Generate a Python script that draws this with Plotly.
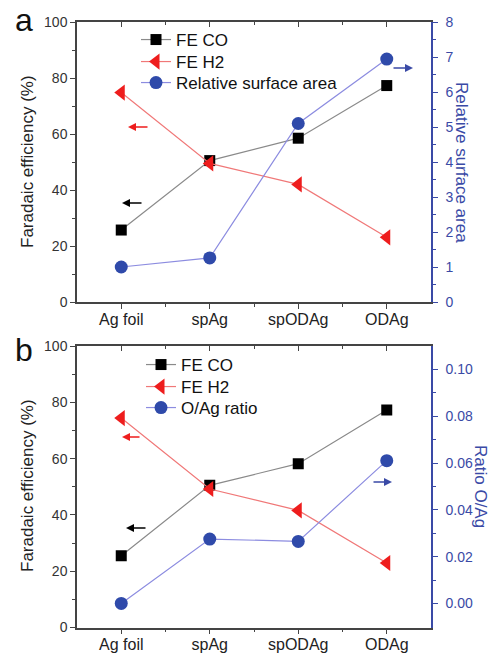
import plotly.graph_objects as go

categories = ["Ag foil", "spAg", "spODAg", "ODAg"]
fe_co_a = [25.7, 50.5, 58.5, 77.3]
fe_h2_a = [74.8, 49.5, 42.0, 23.1]
rel_area = [1.0, 1.26, 5.1, 6.94]
fe_co_b = [25.5, 50.5, 58.2, 77.3]
fe_h2_b = [74.4, 49.2, 41.6, 22.9]
o_ag = [0.0, 0.0275, 0.0265, 0.061]

W, H = 490, 654
FONT = "Arial, Liberation Sans, sans-serif"
BLUE = "#3a4aa6"
DARK = "#333333"

xs = list(range(len(categories)))

def px(x):
    return x / W

def py(y):
    return 1 - y / H

xdom = [px(77), px(431)]
ydom_a = [py(302), py(22)]
ydom_b = [py(627.5), py(346)]

fig = go.Figure()

def add_panel(fe_co, fe_h2, third, third_name, xa, ya, ya2, legs):
    fig.add_trace(go.Scatter(x=xs, y=fe_co, name="FE CO", mode="lines+markers",
                             line=dict(color="#8a8a8a", width=1.2),
                             marker=dict(symbol="square", size=11, color="black"),
                             xaxis=xa, yaxis=ya, legend=legs[0]))
    fig.add_trace(go.Scatter(x=xs, y=fe_h2, name="FE H2", mode="lines+markers",
                             line=dict(color="#f07878", width=1.2),
                             marker=dict(symbol="triangle-left", size=14, color="#ee1d1d"),
                             xaxis=xa, yaxis=ya, legend=legs[1]))
    fig.add_trace(go.Scatter(x=xs, y=third, name=third_name, mode="lines+markers",
                             line=dict(color="#8c8ce0", width=1.2),
                             marker=dict(symbol="circle", size=13, color="#2f4aaa"),
                             xaxis=xa, yaxis=ya2, legend=legs[2]))

add_panel(fe_co_a, fe_h2_a, rel_area, "Relative surface area", "x", "y", "y2",
          ["legend", "legend2", "legend3"])
add_panel(fe_co_b, fe_h2_b, o_ag, "O/Ag ratio", "x2", "y3", "y4",
          ["legend4", "legend5", "legend6"])

tickfont = dict(family=FONT, size=14, color=DARK)
xcommon = dict(range=[-0.5, 3.5], tickmode="array", tickvals=xs, ticktext=categories,
               tickfont=dict(family=FONT, size=16, color="#222"),
               ticks="outside", ticklen=5, tickcolor="#444", showline=True,
               linecolor="#444", linewidth=1.5, showgrid=False, zeroline=False,
               automargin=False, ticklabelstandoff=-3,
               minor=dict(tickmode="array", tickvals=[0.5, 1.5, 2.5], ticks="outside",
                          ticklen=3, tickcolor="#444"),
               domain=xdom)
xtop = dict(range=[-0.5, 3.5], tickmode="array", tickvals=xs, showticklabels=False,
            ticks="inside", ticklen=5, tickcolor="#444", showline=True,
            linecolor="#444", linewidth=1.5, showgrid=False, zeroline=False, side="top",
            automargin=False,
            minor=dict(tickmode="array", tickvals=[0.5, 1.5, 2.5], ticks="inside",
                       ticklen=3, tickcolor="#444"))
yleft = dict(range=[0, 100], dtick=20, tickfont=tickfont, ticks="outside", ticklen=5,
             tickcolor="#444", showline=True, linecolor="#444", linewidth=1.5,
             showgrid=False, zeroline=False, automargin=False,
             minor=dict(dtick=10, ticks="outside", ticklen=3, tickcolor="#444"))
yright_common = dict(tickfont=dict(family=FONT, size=14, color=BLUE), ticks="outside",
                     ticklen=5, tickcolor=BLUE, showline=True, linecolor=BLUE,
                     linewidth=1.5, showgrid=False, zeroline=False, side="right",
                     automargin=False, ticklabelstandoff=5)

legfont = dict(family=FONT, size=17, color="#111")

def leg(x, yc):
    return dict(x=px(x), y=py(yc), xanchor="left", yanchor="middle",
                bgcolor="rgba(0,0,0,0)", font=legfont, tracegroupgap=0, itemwidth=30)

fig.update_layout(
    width=W, height=H, margin=dict(l=0, r=0, t=0, b=0, autoexpand=False),
    paper_bgcolor="white", plot_bgcolor="white",
    font=dict(family=FONT, color=DARK),
    xaxis=dict(**xcommon, anchor="y"),
    yaxis=dict(**yleft, domain=ydom_a, anchor="x"),
    yaxis2=dict(**yright_common, range=[0, 8], dtick=1, overlaying="y", anchor="x",
                minor=dict(dtick=0.5, ticks="outside", ticklen=3, tickcolor=BLUE)),
    xaxis3=dict(**xtop, overlaying="x", anchor="y"),
    xaxis2=dict(**xcommon, anchor="y3"),
    yaxis3=dict(**yleft, domain=ydom_b, anchor="x2"),
    yaxis4=dict(**yright_common, range=[-0.0103, 0.11], tickvals=[0, 0.02, 0.04, 0.06, 0.08, 0.10],
                tickformat=".2f", overlaying="y3", anchor="x2",
                minor=dict(tickmode="array", tickvals=[0.01, 0.03, 0.05, 0.07, 0.09],
                           ticks="outside", ticklen=3, tickcolor=BLUE)),
    xaxis4=dict(**xtop, overlaying="x2", anchor="y3"),
    legend=leg(136, 40),
    legend2=leg(136, 62),
    legend3=leg(136, 83),
    legend4=leg(141, 365),
    legend5=leg(141, 387),
    legend6=leg(141, 408),
    showlegend=True,
)
fig.add_trace(go.Scatter(x=[None], y=[None], xaxis="x3", yaxis="y", showlegend=False, hoverinfo="skip"))
fig.add_trace(go.Scatter(x=[None], y=[None], xaxis="x4", yaxis="y3", showlegend=False, hoverinfo="skip"))

ann = []
def arrow(x_head, y_head, x_tail, color):
    ann.append(dict(x=px(x_head), y=py(y_head), xref="paper", yref="paper",
                    ax=x_tail - x_head, ay=0, showarrow=True, arrowhead=2,
                    arrowsize=1, arrowwidth=1.6, arrowcolor=color, text=""))

arrow(122, 203, 143, "black")
arrow(128, 127, 149, "#ee1d1d")
arrow(413, 68, 392, BLUE)
arrow(122, 437, 141, "#ee1d1d")
arrow(126, 528, 147, "black")
arrow(392, 482, 372, BLUE)

def text(x, y, s, size, color, angle=0):
    ann.append(dict(x=px(x), y=py(y), xref="paper", yref="paper", text=s, showarrow=False,
                    font=dict(family=FONT, size=size, color=color), textangle=angle,
                    xanchor="center", yanchor="middle"))

text(24, 20, "a", 32, "#111")
text(24, 350, "b", 32, "#111")
text(27, 162, "Faradaic efficiency (%)", 17, "#222", -90)
text(27, 486, "Faradaic efficiency (%)", 17, "#222", -90)
text(462, 162, "Relative surface area", 17, BLUE, 90)
text(481, 486, "Ratio O/Ag", 17, BLUE, 90)

fig.update_layout(annotations=ann)
fig.write_html("out.html", config={"displayModeBar": False},
               post_script="document.body.style.margin='0';document.body.style.overflow='hidden';")
